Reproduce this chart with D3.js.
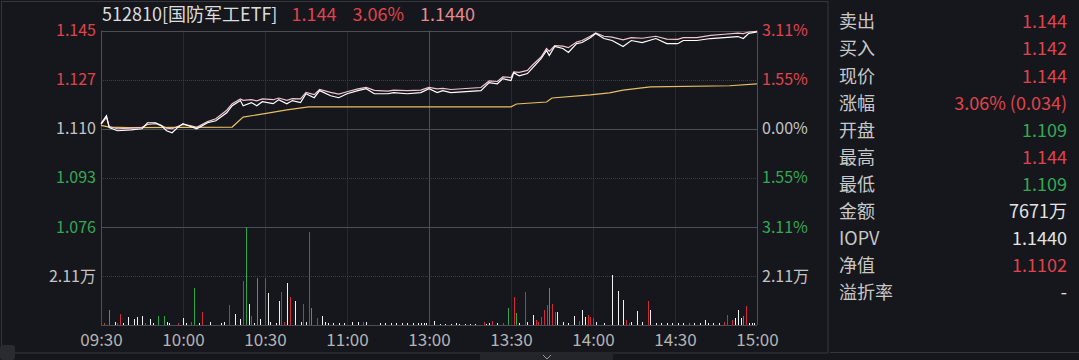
<!DOCTYPE html>
<html>
<head>
<meta charset="utf-8">
<script src="https://cdn.jsdelivr.net/npm/d3@7"></script>
<style>
  body { margin: 0; background: #16171c; overflow: hidden; }
  svg text { font-family: "Noto Sans CJK SC", "Noto Sans", sans-serif; }
</style>
</head>
<body>
<div id="chart"></div>
<script>
// ---- data ----
const prevClose = 1.110;
const timeTicks = [0, 30, 60, 90, 120, 150, 180, 210, 240];
const timeLabels = ['09:30', '10:00', '10:30', '11:00', '13:00', '13:30', '14:00', '14:30', '15:00'];
const pctTicks = [0.0311, 0.0155, 0, -0.0155, -0.0311];
const priceTickLabels = ['1.145', '1.127', '1.110', '1.093', '1.076'];
const pctTickLabels = ['3.11%', '1.55%', '0.00%', '1.55%', '3.11%'];
const volMax = 42200;
const volTick = 21100;
const volTickLabel = '2.11万';

const priceTimes = [0, 2, 3, 6, 11, 15, 17, 20, 22, 24, 26, 28, 30, 33, 35, 39, 42, 46, 48, 51,
  52, 55, 57, 59, 63, 65, 68, 70, 73, 75, 78, 80, 84, 87, 90, 94, 97, 100, 105, 107,
  112, 117, 120, 123, 125, 128, 139, 142, 145, 147, 150, 151, 153, 156, 158, 161, 163, 164, 166, 169,
  171, 174, 176, 179, 181, 184, 187, 191, 194, 198, 203, 207, 211, 213, 218, 223, 228, 233, 235, 237, 240];
const priceValues = [1.1118, 1.1146, 1.1104, 1.1093, 1.1096, 1.1100, 1.1121, 1.1121, 1.1111, 1.1093,
  1.1086, 1.1104, 1.1118, 1.1107, 1.1100, 1.1121, 1.1128, 1.1156, 1.1181, 1.1199,
  1.1181, 1.1192, 1.1181, 1.1195, 1.1188, 1.1202, 1.1188, 1.1199, 1.1192, 1.1223,
  1.1209, 1.1234, 1.1216, 1.1209, 1.1223, 1.1234, 1.1241, 1.1223, 1.1223, 1.1227,
  1.1223, 1.1227, 1.1241, 1.1227, 1.1234, 1.1227, 1.1234, 1.1262, 1.1258, 1.1276,
  1.1269, 1.1297, 1.1286, 1.1294, 1.1315, 1.1346, 1.1375, 1.1357, 1.1389, 1.1382,
  1.1368, 1.1399, 1.1403, 1.1420, 1.1435, 1.1417, 1.1410, 1.1389, 1.1410, 1.1403,
  1.1417, 1.1399, 1.1399, 1.1410, 1.1410, 1.1417, 1.1420, 1.1424, 1.1417, 1.1435, 1.1440];
const iopvValues = [1.1115, 1.1140, 1.1108, 1.1100, 1.1102, 1.1105, 1.1115, 1.1118, 1.1112, 1.1102,
  1.1100, 1.1108, 1.1115, 1.1110, 1.1105, 1.1125, 1.1135, 1.1165, 1.1188, 1.1205,
  1.1200, 1.1202, 1.1198, 1.1205, 1.1202, 1.1208, 1.1200, 1.1206, 1.1205, 1.1228,
  1.1220, 1.1238, 1.1228, 1.1222, 1.1230, 1.1240, 1.1245, 1.1235, 1.1232, 1.1236,
  1.1234, 1.1236, 1.1245, 1.1240, 1.1242, 1.1238, 1.1245, 1.1268, 1.1266, 1.1282,
  1.1280, 1.1300, 1.1298, 1.1305, 1.1325, 1.1352, 1.1382, 1.1372, 1.1392, 1.1390,
  1.1385, 1.1405, 1.1410, 1.1425, 1.1437, 1.1425, 1.1422, 1.1412, 1.1420, 1.1418,
  1.1425, 1.1415, 1.1414, 1.1420, 1.1420, 1.1428, 1.1432, 1.1436, 1.1434, 1.1440, 1.1442];

const avgTimes = [0, 3, 10, 48, 52, 61, 68, 76, 85, 120, 150, 152, 163, 165, 179, 186, 191, 201, 230, 240];
const avgValues = [1.1112, 1.1106, 1.1104, 1.1106, 1.1141, 1.1155, 1.1166, 1.1177, 1.1177, 1.1177,
  1.1177, 1.1187, 1.1194, 1.1208, 1.1219, 1.1226, 1.1236, 1.1247, 1.1251, 1.1258];

// volume: minute, amount, direction (u = up/red, d = down/green, f = flat/white)
const volTimes = [0, 1, 3, 5, 6, 7, 8, 10, 12, 13, 15, 16, 18, 19, 21, 23, 24, 25, 28, 30,
  31, 33, 34, 36, 37, 40, 44, 45, 47, 49, 51, 52, 53, 54, 55, 56, 57, 58, 60, 61,
  62, 64, 65, 66, 67, 68, 69, 71, 73, 74, 75, 76, 77, 79, 81, 82, 83, 85, 87, 89,
  92, 94, 96, 97, 102, 104, 106, 108, 110, 112, 114, 116, 117, 118, 119,
  122, 124, 126, 128, 130, 131, 133, 135, 137, 140, 141, 142, 143, 145, 147, 149, 151, 152, 153,
  155, 156, 158, 159, 160, 161, 162, 163, 164, 165, 166, 167, 169, 171, 173, 175, 176, 177, 178, 179,
  180, 181, 184, 187, 189, 191, 192, 193, 194, 196, 198, 200, 201, 203, 205, 207, 209, 211, 213, 215,
  217, 219, 221, 222, 224, 226, 228, 229, 231, 232, 233, 234, 235, 236, 237, 238, 239];
const volValues = [860, 860, 6460, 1290, 860, 4740, 860, 3440, 2580, 3440, 3880, 860, 2580, 860, 3880, 3880, 1290, 860, 860, 3010,
  860, 1290, 15930, 860, 5600, 1290, 860, 1290, 8610, 4740, 2580, 18950, 42200, 9040, 3880, 860, 20240, 2580, 20240, 13780,
  1290, 860, 10330, 14210, 1290, 18090, 12060, 10330, 1290, 9040, 1290, 40050, 7320, 3010, 3880, 1290, 860, 860, 860, 860,
  1290, 1290, 1290, 1290, 860, 860, 860, 860, 860, 860, 860, 860, 860, 860, 860,
  1720, 430, 430, 430, 860, 430, 430, 430, 430, 1290, 430, 860, 1720, 860, 860, 7320, 12060, 5170, 860,
  14210, 1290, 4310, 2150, 1290, 3440, 6460, 8610, 15930, 9040, 5600, 5600, 1290, 860, 3880, 1720, 6460, 3440, 4310, 3440,
  3010, 1290, 860, 21530, 14640, 10760, 2150, 860, 1290, 6030, 1290, 10330, 6460, 860, 860, 860, 860, 860, 860, 860,
  860, 860, 2150, 860, 860, 860, 1290, 4310, 2150, 3010, 6460, 3010, 3880, 8180, 860, 860, 860];
const volDir = ['u', 'u', 'd', 'f', 'u', 'u', 'f', 'f', 'f', 'f', 'f', 'u', 'f', 'f', 'd', 'd', 'f', 'f', 'u', 'f',
  'f', 'u', 'd', 'f', 'u', 'f', 'f', 'f', 'u', 'f', 'f', 'u', 'd', 'f', 'u', 'f', 'd', 'f', 'u', 'f',
  'f', 'f', 'f', 'u', 'u', 'f', 'u', 'f', 'f', 'u', 'f', 'u', 'd', 'u', 'f', 'f', 'f', 'f', 'f', 'f',
  'f', 'f', 'u', 'f', 'f', 'f', 'f', 'f', 'f', 'f', 'f', 'f', 'f', 'f', 'f',
  'f', 'f', 'f', 'f', 'f', 'f', 'f', 'f', 'f', 'u', 'f', 'f', 'u', 'f', 'u', 'd', 'u', 'd', 'f',
  'u', 'f', 'f', 'u', 'u', 'u', 'u', 'u', 'd', 'u', 'u', 'f', 'f', 'f', 'f', 'u', 'f', 'f', 'u', 'u',
  'u', 'f', 'f', 'f', 'f', 'f', 'u', 'u', 'f', 'f', 'f', 'u', 'f', 'f', 'f', 'f', 'f', 'f', 'f', 'd',
  'f', 'f', 'f', 'f', 'f', 'f', 'u', 'u', 'u', 'f', 'f', 'f', 'd', 'u', 'f', 'f', 'f'];

const titleTexts = ['512810[国防军工ETF]', '1.144', '3.06%', '1.1440'];
const titleColors = ['#dcdcdc', '#e0434c', '#e0434c', '#e88a90'];

const infoLabels = ['卖出', '买入', '现价', '涨幅', '开盘', '最高', '最低', '金额', 'IOPV', '净值', '溢折率'];
const infoValues = ['1.144', '1.142', '1.144', '3.06% (0.034)', '1.109', '1.144', '1.109', '7671万', '1.1440', '1.1102', '-'];
const infoDir = ['u', 'u', 'u', 'u', 'd', 'u', 'd', 'f', 'f', 'u', 'f'];

// ---- drawing ----
const W = 1079, H = 360;
const plotL = 101, plotR = 757, plotT = 30.5, plotMid = 227, plotB = 325;
const dirColor = { u: '#e0434c', d: '#35a853', f: '#d0d0d0' };
const barColor = { u: '#d42a34', d: '#2ea84b', f: '#f2f2f2' };
const gridCol = '#3c3e46', solidCol = '#4c4e55';

const svg = d3.select('#chart').append('svg').attr('width', W).attr('height', H);
svg.append('rect').attr('width', W).attr('height', H).attr('fill', '#16171c');

// frame around chart panel
svg.append('rect').attr('x', 1.5).attr('y', 1.5).attr('width', 826.5).attr('height', 351.5)
  .attr('fill', 'none').attr('stroke', '#34363c');
svg.append('line').attr('x1', 830).attr('x2', W).attr('y1', 352.5).attr('y2', 352.5).attr('stroke', '#34363c');
svg.append('rect').attr('x', 480).attr('y', 354).attr('width', 133).attr('height', 6).attr('fill', '#24252b');
svg.append('path').attr('d', 'M543,355 L547,359 L551,355').attr('fill', 'none').attr('stroke', '#9a9a9a');
svg.append('rect').attr('x', 0).attr('y', 345).attr('width', 15).attr('height', 15).attr('rx', 3)
  .attr('fill', '#2a2b30');

const x = d3.scaleLinear().domain([0, 240]).range([plotL, plotR]);
const y = d3.scaleLinear().domain([prevClose * (1 - 0.0311), prevClose * (1 + 0.0311)]).range([plotMid, plotT]);
const yv = d3.scaleLinear().domain([0, volMax]).range([plotB, plotMid]);

// grid
const g = svg.append('g');
pctTicks.forEach((p, i) => {
  const yy = Math.round(y(prevClose * (1 + p))) + 0.5;
  const dotted = i === 1 || i === 3;
  g.append('line').attr('x1', plotL).attr('x2', plotR).attr('y1', yy).attr('y2', yy)
    .attr('stroke', dotted ? gridCol : solidCol).attr('stroke-dasharray', dotted ? '1,1' : null);
});
g.append('line').attr('x1', plotL).attr('x2', plotR)
  .attr('y1', Math.round(yv(volTick)) + 0.5).attr('y2', Math.round(yv(volTick)) + 0.5)
  .attr('stroke', gridCol).attr('stroke-dasharray', '1,1');
g.append('line').attr('x1', plotL).attr('x2', plotR).attr('y1', plotB + 0.5).attr('y2', plotB + 0.5)
  .attr('stroke', solidCol);
timeTicks.forEach(t => {
  const xx = Math.round(x(t)) + 0.5;
  const edge = t === 0 || t === 240 || t === 120;
  g.append('line').attr('x1', xx).attr('x2', xx).attr('y1', plotT).attr('y2', plotB)
    .attr('stroke', edge ? solidCol : gridCol).attr('stroke-dasharray', edge ? null : '1,1');
});

// axes labels
const priceAxis = svg.append('g').attr('transform', `translate(${plotL - 5},0)`)
  .call(d3.axisLeft(y).tickValues(pctTicks.map(p => prevClose * (1 + p)))
    .tickFormat((d, i) => priceTickLabels[i]).tickSize(0).tickPadding(0));
const pctAxis = svg.append('g').attr('transform', `translate(${plotR + 5},0)`)
  .call(d3.axisRight(y).tickValues(pctTicks.map(p => prevClose * (1 + p)))
    .tickFormat((d, i) => pctTickLabels[i]).tickSize(0).tickPadding(0));
[priceAxis, pctAxis].forEach(a => {
  a.select('.domain').remove();
  a.selectAll('text').attr('font-size', 16)
    .attr('fill', (d, i) => pctTicks[i] > 0 ? dirColor.u : pctTicks[i] < 0 ? dirColor.d : '#c4c4c4');
});
const volAxisL = svg.append('g').attr('transform', `translate(${plotL - 5},0)`)
  .call(d3.axisLeft(yv).tickValues([volTick]).tickFormat(() => volTickLabel).tickSize(0).tickPadding(0));
const volAxisR = svg.append('g').attr('transform', `translate(${plotR + 5},0)`)
  .call(d3.axisRight(yv).tickValues([volTick]).tickFormat(() => volTickLabel).tickSize(0).tickPadding(0));
[volAxisL, volAxisR].forEach(a => {
  a.select('.domain').remove();
  a.selectAll('text').attr('font-size', 16).attr('fill', '#c4c4c4');
});
const timeAxis = svg.append('g').attr('transform', `translate(0,${plotB + 9})`)
  .call(d3.axisBottom(x).tickValues(timeTicks).tickFormat((d, i) => timeLabels[i]).tickSize(0).tickPadding(0));
timeAxis.select('.domain').remove();
timeAxis.selectAll('text').attr('font-size', 17).attr('fill', '#b4b4b4');

// volume bars
svg.append('g').selectAll('rect').data(volTimes).join('rect')
  .attr('x', d => Math.round(x(d)))
  .attr('width', 1)
  .attr('y', (d, i) => yv(volValues[i]))
  .attr('height', (d, i) => plotB - yv(volValues[i]))
  .attr('fill', (d, i) => barColor[volDir[i]])
  .attr('shape-rendering', 'crispEdges');

// lines
const lineOf = (ts, vs) => d3.line().x((d, i) => x(ts[i])).y(d => y(d))(vs);
svg.append('path').attr('d', lineOf(avgTimes, avgValues)).attr('fill', 'none')
  .attr('stroke', '#e6bf62').attr('stroke-width', 1.2);
svg.append('path').attr('d', lineOf(priceTimes, iopvValues)).attr('fill', 'none')
  .attr('stroke', '#f2c4cc').attr('stroke-width', 1.2);
svg.append('path').attr('d', lineOf(priceTimes, priceValues)).attr('fill', 'none')
  .attr('stroke', '#ffffff').attr('stroke-width', 1.2);

// title
let tx = 102;
const gaps = [14, 16, 16];
titleTexts.forEach((t, i) => {
  const el = svg.append('text').attr('x', tx).attr('y', 21).attr('font-size', 18)
    .attr('fill', titleColors[i]).text(t);
  tx += el.node().getComputedTextLength() + (gaps[i] || 0);
});

// info panel
const info = svg.append('g');
infoLabels.forEach((l, i) => {
  const yy = 22 + i * 27.1;
  info.append('text').attr('x', 839).attr('y', yy).attr('dy', '0.35em').attr('font-size', 18)
    .attr('fill', '#c8c8c8').text(l);
  info.append('text').attr('x', 1067).attr('y', yy).attr('dy', '0.35em').attr('font-size', 18)
    .attr('text-anchor', 'end').attr('fill', infoDir[i] === 'f' ? '#e4e4e4' : dirColor[infoDir[i]])
    .text(infoValues[i]);
});
</script>
</body>
</html>
